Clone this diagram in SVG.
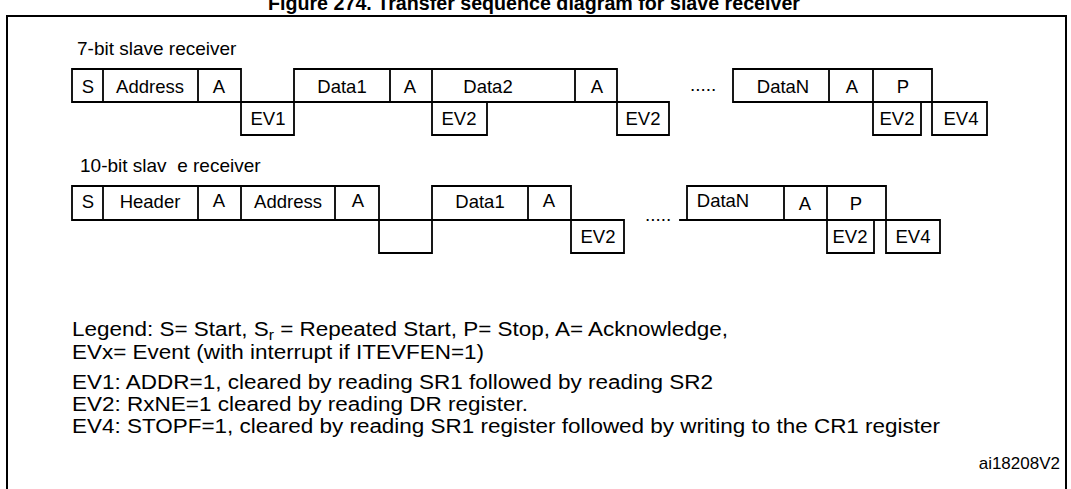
<svg xmlns="http://www.w3.org/2000/svg" width="1071" height="489" viewBox="0 0 1071 489">
<style>
text{font-family:"Liberation Sans",Arial,sans-serif;fill:#000}
.t{font-size:19.5px;font-weight:bold}
.h{font-size:19px}
.b{font-size:18.5px;text-anchor:middle}
.l{font-size:20px}
.w{fill:none;stroke:#000;stroke-width:1.8;stroke-linecap:square}
.f{fill:none;stroke:#000;stroke-width:2}
</style>
<rect width="1071" height="489" fill="#fff"/>
<text class="t" x="534" y="10" text-anchor="middle" textLength="532" lengthAdjust="spacingAndGlyphs">Figure 274. Transfer sequence diagram for slave receiver</text>
<path class="f" d="M7,489 V16 H1066 V489"/>
<g id="row7">
<text class="h" x="77" y="55">7-bit slave receiver</text>
<g id="r1-frame">
<path class="w" d="M72,69 H241 M294,69 H617 M733,69 H932 M72,102 H669 M733,102 H987 M241,135 H294 M432,135 H487 M617,135 H669 M873,135 H921 M932,135 H987 M72,69 V102 M103,69 V102 M198,69 V102 M241,69 V135 M294,69 V135 M390,69 V102 M432,69 V135 M487,102 V135 M575,69 V102 M617,69 V135 M669,102 V135 M733,69 V102 M829,69 V102 M873,69 V135 M921,102 V135 M932,69 V135 M987,102 V135"/>
</g>
<g id="r1-S"><text class="b" x="88" y="93">S</text></g>
<g id="r1-Address"><text class="b" x="150" y="93">Address</text></g>
<g id="r1-A1"><text class="b" x="219" y="93">A</text></g>
<g id="r1-EV1"><text class="b" x="268" y="125">EV1</text></g>
<g id="r1-Data1"><text class="b" x="342" y="93">Data1</text></g>
<g id="r1-A2"><text class="b" x="410" y="93">A</text></g>
<g id="r1-Data2"><text class="b" x="488" y="93">Data2</text></g>
<g id="r1-EV2a"><text class="b" x="459" y="125">EV2</text></g>
<g id="r1-A3"><text class="b" x="597" y="93">A</text></g>
<g id="r1-EV2b"><text class="b" x="643" y="125">EV2</text></g>
<text class="h" x="690" y="91">.....</text>
<g id="r1-DataN"><text class="b" x="783" y="93">DataN</text></g>
<g id="r1-A4"><text class="b" x="852" y="93">A</text></g>
<g id="r1-P"><text class="b" x="903" y="93">P</text></g>
<g id="r1-EV2c"><text class="b" x="897" y="125">EV2</text></g>
<g id="r1-EV4"><text class="b" x="961" y="125">EV4</text></g>
</g>
<g id="row10">
<text class="h" x="80" y="172" xml:space="preserve">10-bit slav  e receiver</text>
<g id="r2-frame">
<path class="w" d="M72,186 H379 M432,186 H571 M687,186 H886 M72,220 H624 M680,220 H940 M379,253 H432 M571,253 H624 M827,253 H874 M886,253 H940 M72,186 V220 M103,186 V220 M198,186 V220 M241,186 V220 M335,186 V220 M379,186 V253 M432,186 V253 M528,186 V220 M571,186 V253 M624,220 V253 M687,186 V220 M784,186 V220 M827,186 V253 M874,220 V253 M886,186 V253 M940,220 V253"/>
</g>
<g id="r2-S"><text class="b" x="88" y="208">S</text></g>
<g id="r2-Header"><text class="b" x="150" y="208">Header</text></g>
<g id="r2-A1"><text class="b" x="219" y="207">A</text></g>
<g id="r2-Address"><text class="b" x="288" y="208">Address</text></g>
<g id="r2-A2"><text class="b" x="358" y="207">A</text></g>
<g id="r2-Data1"><text class="b" x="480" y="208">Data1</text></g>
<g id="r2-A3"><text class="b" x="549" y="207">A</text></g>
<g id="r2-EV2a"><text class="b" x="598" y="243">EV2</text></g>
<text class="h" x="645" y="221">.....</text>
<g id="r2-DataN"><text class="b" x="723" y="207">DataN</text></g>
<g id="r2-A4"><text class="b" x="805" y="210">A</text></g>
<g id="r2-P"><text class="b" x="856" y="210">P</text></g>
<g id="r2-EV2b"><text class="b" x="850" y="243">EV2</text></g>
<g id="r2-EV4"><text class="b" x="913" y="243">EV4</text></g>
</g>
<g id="legend">
<text class="l" x="72" y="336" textLength="656" lengthAdjust="spacingAndGlyphs">Legend:  S= Start, S<tspan font-size="14" dy="4">r</tspan><tspan dy="-4"> = Repeated Start, P= Stop, A= Acknowledge,</tspan></text>
<text class="l" x="72" y="359" textLength="412" lengthAdjust="spacingAndGlyphs">EVx= Event (with interrupt if ITEVFEN=1)</text>
<text class="l" x="72" y="389" textLength="641" lengthAdjust="spacingAndGlyphs">EV1: ADDR=1, cleared by reading SR1 followed by reading SR2</text>
<text class="l" x="72" y="411" textLength="456" lengthAdjust="spacingAndGlyphs">EV2: RxNE=1 cleared by reading DR register.</text>
<text class="l" x="72" y="433" textLength="868" lengthAdjust="spacingAndGlyphs">EV4: STOPF=1, cleared by reading SR1 register followed by writing to the CR1 register</text>
<text x="1060" y="469" font-size="17" text-anchor="end">ai18208V2</text>
</g>
</svg>
